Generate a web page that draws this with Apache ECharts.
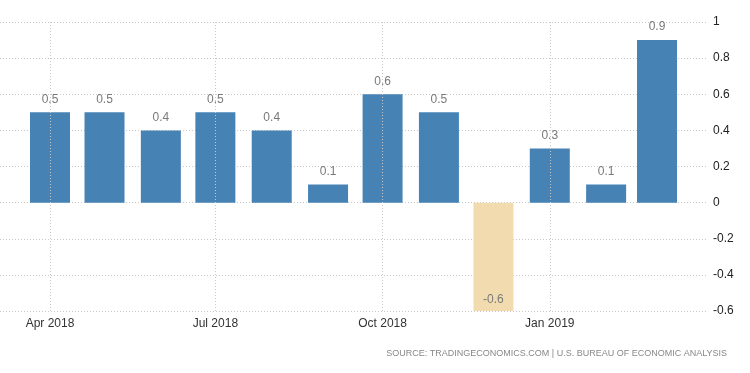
<!DOCTYPE html>
<html><head><meta charset="utf-8">
<script src="https://cdn.jsdelivr.net/npm/echarts@6/dist/echarts.min.js"></script>
<style>html,body{margin:0;padding:0;background:#fff}#c{width:750px;height:373px}</style>
</head><body><div id="c"></div>
<script>
const dates = ['2018-04-01','2018-05-01','2018-06-01','2018-07-01','2018-08-01','2018-09-01','2018-10-01','2018-11-01','2018-12-01','2019-01-01','2019-02-01','2019-03-01'];
const values = [0.5,0.5,0.4,0.5,0.4,0.1,0.6,0.5,-0.6,0.3,0.1,0.9];
const tickDates = ['2018-04-01','2018-07-01','2018-10-01','2019-01-01'];
const tickLabels = ['Apr 2018','Jul 2018','Oct 2018','Jan 2019'];
const yMin = -0.6, yMax = 1, yStep = 0.2;
const sourceText = 'SOURCE: TRADINGECONOMICS.COM | U.S. BUREAU OF ECONOMIC ANALYSIS';

const DAY = 86400000;
const ts = d => Date.parse(d + 'T00:00:00Z');
const tickTs = tickDates.map(ts);
const xMin = ts(dates[0]) - 27.5 * DAY;
const xMax = ts(dates[dates.length - 1]) + 27.5 * DAY;

const font = 'Liberation Sans, Arial, sans-serif';
const chart = echarts.init(document.getElementById('c'));
chart.setOption({
  animation: false,
  grid: {left: 0, right: 43, top: 22, bottom: 62},
  xAxis: {
    type: 'value', min: xMin, max: xMax,
    axisLine: {show: false}, axisTick: {show: false}, splitLine: {show: false},
    axisLabel: {customValues: tickTs,
      formatter: v => { const k = tickTs.indexOf(v); return k >= 0 ? tickLabels[k] : ''; },
      color: '#333', fontFamily: font, fontSize: 12, margin: 7}
  },
  yAxis: {
    type: 'value', position: 'right', min: yMin, max: yMax, interval: yStep,
    axisLine: {show: false}, axisTick: {show: false},
    splitLine: {lineStyle: {color: '#c8c8c8', type: [1, 2], width: 1}},
    axisLabel: {color: '#222', fontFamily: font, fontSize: 12, margin: 6,
      formatter: v => String(Math.round(v * 10) / 10)}
  },
  series: [{
    type: 'bar', barWidth: 40,
    data: values.map((v, i) => ({value: [ts(dates[i]), v],
      itemStyle: {color: v < 0 ? '#f2dbaf' : '#4682b4'},
      label: v < 0 ? {position: 'insideBottom', distance: 5} : {position: 'top', distance: 7}})),
    label: {show: true, color: '#7a7a7a', fontFamily: font, fontSize: 12,
      formatter: p => String(p.value[1])},
    markLine: {
      silent: true, symbol: 'none', label: {show: false},
      lineStyle: {color: '#c8c8c8', type: [1, 2], width: 1},
      data: tickTs.map(t => ({xAxis: t}))
    }
  }],
  graphic: [{type: 'text', right: 23, top: 349,
    style: {text: sourceText, fill: '#888', font: '9px ' + font}}]
});
</script></body></html>
